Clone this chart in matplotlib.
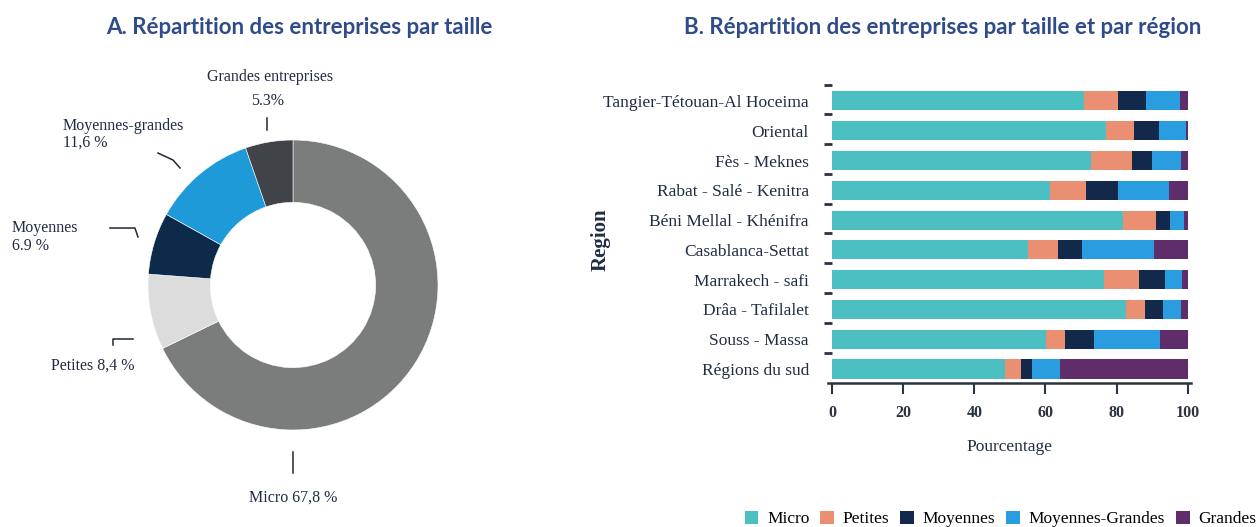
import numpy as np
import matplotlib.pyplot as plt
from matplotlib.patches import Patch

# données - graphique A
tailles = ['Micro', 'Petites', 'Moyennes', 'Moyennes-grandes', 'Grandes entreprises']
parts = [67.8, 8.4, 6.9, 11.6, 5.3]
couleurs_a = ['#7b7d7d', '#dcdcdc', '#0d2a4b', '#1f9ad8', '#404347']

# données - graphique B
regions = ['Tangier-Tétouan-Al Hoceima', 'Oriental', 'Fès - Meknes', 'Rabat - Salé - Kenitra',
           'Béni Mellal - Khénifra', 'Casablanca-Settat', 'Marrakech - safi',
           'Drâa - Tafilalet', 'Souss - Massa', 'Régions du sud']
micro = [70.9, 76.9, 72.9, 61.4, 81.7, 55.0, 76.5, 82.6, 60.2, 48.7]
petites = [9.5, 8.1, 11.3, 10.1, 9.4, 8.5, 9.7, 5.4, 5.2, 4.3]
moyennes = [7.9, 6.9, 5.6, 8.9, 3.8, 6.8, 7.3, 5.1, 8.1, 3.3]
moy_grandes = [9.6, 7.5, 8.3, 14.3, 4.0, 20.1, 4.8, 5.0, 18.8, 7.9]
grandes = [2.1, 0.6, 1.9, 5.3, 1.1, 9.6, 1.7, 1.9, 7.7, 35.8]
series = [micro, petites, moyennes, moy_grandes, grandes]
noms_b = ['Micro', 'Petites', 'Moyennes', 'Moyennes-Grandes', 'Grandes']
couleurs_b = ['#4bbfc2', '#ea8f72', '#13294b', '#2a9de0', '#5e2d6a']

serif = 'Liberation Serif'
txt = '#1f2d44'
titre_col = '#2f4b8a'

fig = plt.figure(figsize=(12.57, 5.27), dpi=100)

# ---- A. anneau
ax1 = fig.add_axes([148 / 1257, 97 / 527, 290 / 1257, 290 / 527])
ax1.pie(parts, colors=couleurs_a, startangle=90, counterclock=False,
        wedgeprops=dict(width=0.43, edgecolor='white', linewidth=0.4))
ax1.set_xlim(-1, 1)
ax1.set_ylim(-1, 1)
ax1.axis('off')

kw = dict(fontfamily=serif, fontsize=11.5, color=txt, clip_on=False)
ax1.text(-0.159, 1.434, 'Grandes entreprises', ha='center', va='center', **kw)
ax1.text(-0.172, 1.269, '5.3%', ha='center', va='center', **kw)
ax1.text(-1.586, 1.097, 'Moyennes-grandes', ha='left', va='center', **kw)
ax1.text(-1.586, 0.979, '11,6 %', ha='left', va='center', **kw)
ax1.text(-1.938, 0.393, 'Moyennes', ha='left', va='center', **kw)
ax1.text(-1.938, 0.269, '6.9 %', ha='left', va='center', **kw)
ax1.text(-1.090, -0.559, 'Petites 8,4 %', ha='right', va='center', **kw)
ax1.text(0.0, -1.469, 'Micro 67,8 %', ha='center', va='center', **kw)

lk = dict(color='#1f2733', lw=1.1, clip_on=False)
ax1.plot([-0.179, -0.179], [1.152, 1.069], **lk)
ax1.plot([-0.931, -0.828, -0.779], [0.910, 0.862, 0.807], **lk)
ax1.plot([-1.262, -1.090, -1.069], [0.393, 0.393, 0.331], **lk)
ax1.plot([-1.241, -1.241, -1.103], [-0.414, -0.372, -0.372], **lk)
ax1.plot([0.0, 0.0], [-1.152, -1.297], **lk)

fig.text(299 / 1257, 1 - 28 / 527, 'A. Répartition des entreprises par taille',
         ha='center', va='center', fontfamily='Lato', fontweight='bold',
         fontsize=16, color=titre_col)

# ---- B. barres empilées
ax2 = fig.add_axes([828.4 / 1257, 144 / 527, 363 / 1257, 304.4 / 527])
y = np.arange(len(regions))
gauche = np.zeros(len(regions))
for vals, nom, c in zip(series, noms_b, couleurs_b):
    ax2.barh(y, vals, left=gauche, height=0.64, color=c, label=nom)
    gauche += np.array(vals)

ax2.set_xlim(-1, 101)
ax2.set_ylim(9.47, -0.75)
ax2.set_yticks(y)
ax2.set_yticklabels(regions, fontfamily=serif, fontsize=12.5, color=txt)
ax2.set_yticks(y - 0.55, minor=True)
ax2.tick_params(axis='y', which='major', length=0, pad=14)
ax2.tick_params(axis='y', which='minor', length=6, width=2, color='#2b3340', direction='inout')
ax2.set_xticks([0, 20, 40, 60, 80, 100])
ax2.set_xticklabels(['0', '20', '40', '60', '80', '100'], fontfamily=serif,
                    fontsize=11.5, fontweight='bold', color='#2b3340')
ax2.tick_params(axis='x', length=8, width=1.5, color='#2b3340', pad=8)
for s in ['top', 'right', 'left']:
    ax2.spines[s].set_visible(False)
ax2.spines['bottom'].set_linewidth(1.8)
ax2.spines['bottom'].set_color('#2b3340')
ax2.set_xlabel('Pourcentage', fontfamily=serif, fontsize=12.5, color=txt, labelpad=13)
ax2.set_ylabel('Region', fontfamily=serif, fontsize=15, fontweight='bold', color=txt)
ax2.yaxis.set_label_coords(-0.60, 0.47)

fig.text(943 / 1257, 1 - 28 / 527, 'B. Répartition des entreprises par taille et par région',
         ha='center', va='center', fontfamily='Lato', fontweight='bold',
         fontsize=16, color=titre_col)

poignees = [Patch(facecolor=c, label=n) for c, n in zip(couleurs_b, noms_b)]
fig.legend(handles=poignees, loc='lower right', bbox_to_anchor=(1.012, -0.03), ncol=5,
           frameon=False, handlelength=0.8, handleheight=0.8, handletextpad=0.5,
           columnspacing=0.62, prop=dict(family=serif, size=12.5))

fig.savefig('out.png', dpi=100)
